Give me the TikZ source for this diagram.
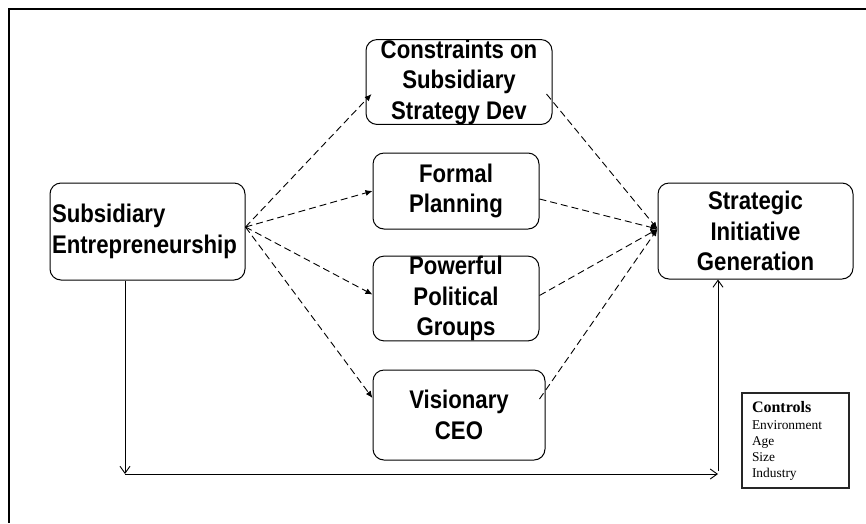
\documentclass[tikz,border=0pt]{standalone}
\usepackage{fontspec}
\setmainfont{Liberation Serif}
\newfontfamily\boxfont[FakeStretch=0.87]{Liberation Sans}
\usetikzlibrary{arrows.meta}

\tikzset{
  factor/.style={draw, line width=1pt, rounded corners=11pt, align=center,
    inner sep=0pt, font=\boxfont\bfseries\fontsize{25.5}{30.5}\selectfont},
  link/.style={line width=0.9pt, dash pattern=on 7pt off 4pt,
    -{Latex[length=7pt,width=6pt]}},
  flow/.style={line width=0.9pt, -{Straight Barb[length=7pt,width=10pt]}},
  controlbox/.style={draw=black!85, line width=1.3pt, align=left,
    text width=87pt, inner xsep=10pt, inner ysep=0pt,
    minimum height=95pt, font=\fontsize{13.4}{16}\selectfont},
}

\begin{document}
\begin{tikzpicture}[x=1pt,y=-1pt]
  \useasboundingbox (0,0) rectangle (866,523);

  % outer frame (top and left edges)
  \draw[line width=2pt] (866,9) -- (9,9) -- (9,523);

  % factors
  \node[factor, minimum width=195pt, minimum height=97pt,
        text width=191pt, align=left, inner xsep=2pt] (se) at (147.5,231.5)
        {Subsidiary\\Entrepreneurship};
  \node[factor, minimum width=186pt, minimum height=82pt] (con) at (459,82)
        {Constraints on\\Subsidiary\\Strategy Dev};
  \node[factor, minimum width=166pt, minimum height=76pt] (fp) at (456,191)
        {Formal\\Planning};
  \node[factor, minimum width=166pt, minimum height=83pt] (ppg) at (456,298.5)
        {Powerful\\Political\\Groups};
  \node[factor, minimum width=172pt, minimum height=90pt] (vc) at (459,415)
        {Visionary\\CEO};
  \node[factor, minimum width=195pt, minimum height=96pt] (sig) at (755.5,231)
        {Strategic\\Initiative\\Generation};

  % control variables
  \node[controlbox] (ctl) at (795.5,440.5)
        {{\fontsize{16}{16}\selectfont\bfseries Controls}\\[1pt]
         Environment\\Age\\Size\\Industry};

  % mediated paths
  \draw[link] ([yshift=4.5pt]se.east) -- ([shift={(6pt,-12pt)}]con.west);
  \draw[link] ([yshift=4.5pt]se.east) -- (fp.west);
  \draw[link] ([yshift=4.5pt]se.east) -- ([yshift=4pt]ppg.west);
  \draw[link] ([yshift=4.5pt]se.east) -- ([yshift=17pt]vc.west);

  \draw[link] ([shift={(-6pt,-12pt)}]con.east) -- ([yshift=2pt]sig.west);
  \draw[link] ([yshift=-8pt]fp.east) -- ([yshift=2pt]sig.west);
  \draw[link] ([yshift=3pt]ppg.east) -- ([yshift=2pt]sig.west);
  \draw[link] ([shift={(-6pt,16pt)}]vc.east) -- ([yshift=2pt]sig.west);

  % direct path
  \coordinate (dl) at (125,474);
  \coordinate (dr) at (718,474);
  \coordinate (du) at (718,471);
  \draw[flow] ([xshift=-22.5pt]se.south) -- (dl);
  \draw[flow] (dl) -- (dr);
  \draw[flow] (du) -- ([xshift=-37.5pt]sig.south);
\end{tikzpicture}
\end{document}
